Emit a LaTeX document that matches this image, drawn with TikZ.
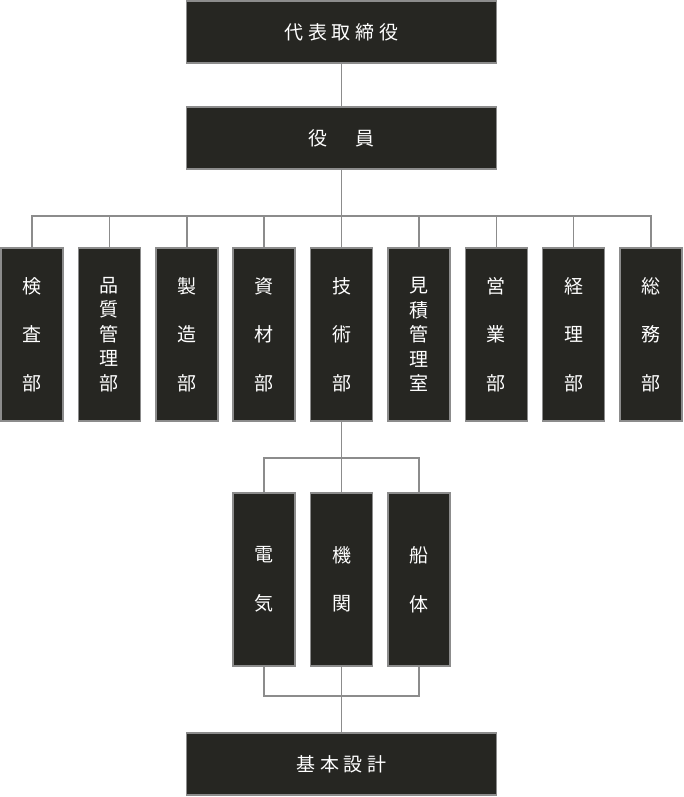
\documentclass[tikz,border=0pt]{standalone}
\usepackage{fontspec}
\newfontfamily\jpfont{Noto Sans CJK JP}
\newfontfamily\jpwide[LetterSpace=26]{Noto Sans CJK JP}
\definecolor{OrgDark}{RGB}{38,38,34}
\definecolor{OrgGray}{RGB}{140,140,140}
\usetikzlibrary{positioning}

\tikzset{
	orgbox/.style={draw=OrgGray, fill=OrgDark, line width=1.5pt, text=white, inner sep=0pt},
	widebox/.style={orgbox, minimum width=310pt, minimum height=62pt, font=\jpwide\fontsize{19}{24}\selectfont},
	tallbox/.style={orgbox, minimum width=62pt, minimum height=173pt, align=center, font=\jpfont\fontsize{19}{48.5}\selectfont},
	densebox/.style={tallbox, font=\jpfont\fontsize{19}{24.5}\selectfont},
	orgline/.style={draw=OrgGray, line width=1.5pt}
}

\begin{document}
\begin{tikzpicture}[x=1pt, y=-1pt]
	\useasboundingbox (0,0) rectangle (683,797);
	% top of the chart
	\node[widebox] (ceo) at (341.5,32) {代表取締役};
	\node[widebox] (board) at (341.5,138) {役　員};
	% departments
	\foreach \i/\txt/\sty in {1/検\\査\\部/tallbox, 2/品\\質\\管\\理\\部/densebox,
		3/製\\造\\部/tallbox, 4/資\\材\\部/tallbox, 5/技\\術\\部/tallbox,
		6/見\\積\\管\\理\\室/densebox, 7/営\\業\\部/tallbox,
		8/経\\理\\部/tallbox, 9/総\\務\\部/tallbox}
		\node[\sty] (d\i) at ({32+77.375*(\i-1)},334.5) {\txt};
	% sections under 技術部
	\node[tallbox] (elec) at (264,579.5) {電\\気};
	\node[tallbox] (engine) at (341.5,579.5) {機\\関};
	\node[tallbox] (hull) at (419,579.5) {船\\体};
	\node[widebox] (design) at (341.5,764) {基本設計};
	% connectors
	\coordinate (bus) at (341.5,216);
	\coordinate (sbus) at (341.5,458);
	\coordinate (lbus) at (341.5,696);
	\draw[orgline] (ceo) -- (board);
	\draw[orgline] (board) -- (bus);
	\foreach \i in {1,...,9}
		\draw[orgline] (d\i.north) |- (bus);
	\draw[orgline] (d5) -- (sbus);
	\foreach \s in {elec, engine, hull} {
		\draw[orgline] (\s.north) |- (sbus);
		\draw[orgline] (\s.south) |- (lbus);
	}
	\draw[orgline] (lbus) -- (design);
\end{tikzpicture}
\end{document}
